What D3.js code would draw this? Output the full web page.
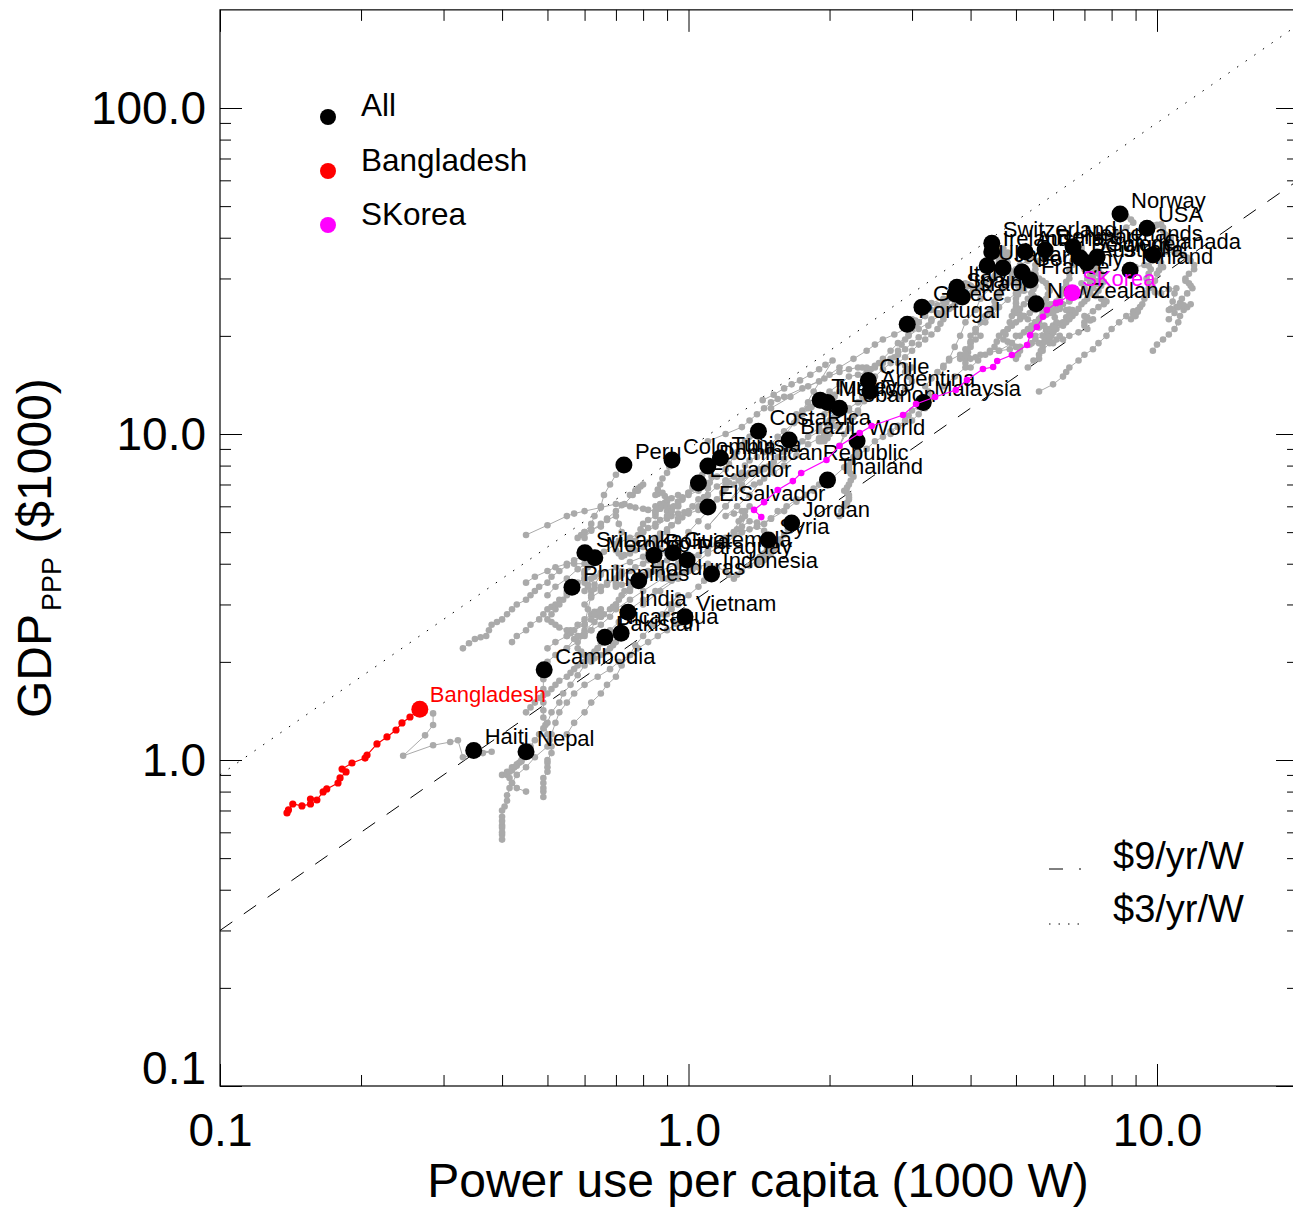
<!DOCTYPE html>
<html><head><meta charset="utf-8">
<script src="https://cdn.jsdelivr.net/npm/d3@7/dist/d3.min.js"></script>
<style>
body{margin:0;background:#fff}
svg{display:block}
text{font-family:"Liberation Sans",Arial,Helvetica,sans-serif}
</style>
</head><body>
<svg id="c" width="1293" height="1207"></svg>
<script>
// ---------- DATA (power use per capita in 1000 W, GDP PPP in $1000) ----------
const xMajorTicks = [0.1, 1, 10];
const xTickLabels = ["0.1", "1.0", "10.0"];
const xMinorTicks = [0.2,0.3,0.4,0.5,0.6,0.7,0.8,0.9,2,3,4,5,6,7,8,9,20];
const yMajorTicks = [0.1, 1, 10, 100];
const yTickLabels = ["0.1", "1.0", "10.0", "100.0"];
const yMinorTicks = [0.2,0.3,0.4,0.5,0.6,0.7,0.8,0.9,2,3,4,5,6,7,8,9,20,30,40,50,60,70,80,90];
const legendNames = ["All", "Bangladesh", "SKorea"];
const ratioValues = [3, 9];              // reference lines GDP = k * power (dashed, dotted)
const ratioLabels = ["$9/yr/W", "$3/yr/W"];

const norway = [[4.6,18],[4.9,19],[5.1,20],[5.3,21],[5.5,22],[5.6,22.5],[5.9,23.5],[6.1,24],[6.5,25.5],[6.8,26.5],[7.0,27.5],[7.0,28],[6.9,29],[7.1,30],[7.2,31],[7.0,32],[7.0,33],[7.3,34.5],[7.6,36],[7.8,38],[7.9,40],[8.2,41.5],[8.6,43],[8.9,44.5],[8.8,45.5],[8.6,46.5],[8.5,47],[8.34,47.3]];
const usa = [[10.6,22.5],[10.9,23.5],[11.0,24.5],[10.7,24.2],[10.6,24],[10.8,25.5],[10.9,27],[11.0,28],[10.6,27.8],[10.2,27],[9.9,27.2],[9.8,28],[9.9,29.5],[10.0,31],[10.1,31.8],[10.3,32.5],[10.2,32.8],[10.2,33.5],[10.1,34.2],[10.1,35],[10.3,36.5],[10.6,38],[10.7,39],[10.7,40],[10.5,40.5],[10.4,41],[10.3,42],[10.3,43],[10.2,44],[10.0,43.8],[9.9,43.5],[9.52,42.8]];
const canada = [[9.8,18],[10.0,18.8],[10.3,19.5],[10.6,20.2],[10.9,21],[11.1,22],[11.2,23],[11.4,24],[11.6,24.5],[11.8,25],[11.4,24.8],[11.1,24.5],[11.2,25.2],[11.3,26],[11.6,27],[11.9,28],[11.8,28.5],[11.7,29],[11.5,29.5],[11.5,30],[11.7,31],[12.0,32],[12.0,33],[11.8,34],[11.6,34.8],[11.4,35.5],[11.1,36],[10.9,36],[10.5,36.2],[10.2,36],[9.80,35.4]];
const finland = [[5.6,13.5],[6.0,14.2],[6.3,15],[6.4,15.5],[6.5,16],[6.8,16.8],[7.0,17.5],[7.3,18.2],[7.5,19],[7.8,20],[8.0,21],[8.3,22],[8.6,23],[8.9,23.8],[9.2,24.5],[9.1,23.7],[9.0,23],[8.8,22.5],[8.9,23.2],[9.1,24],[9.3,25],[9.4,26],[9.5,27],[9.6,28],[9.6,29],[9.5,30],[9.6,31],[9.7,32],[9.6,32.8],[9.4,33],[9.0,32.5],[8.76,31.8]];
const netherlands = [[5.5,20],[5.8,20.8],[6.0,21.5],[6.2,21.8],[6.3,22],[6.4,22.8],[6.5,23.5],[6.6,24],[6.5,24.1],[6.4,24],[6.2,24.2],[6.0,24.5],[6.0,25],[6.1,25.5],[6.2,26.2],[6.3,27],[6.3,27.8],[6.4,28.5],[6.4,29.3],[6.5,30],[6.5,31],[6.5,32],[6.6,33],[6.6,34],[6.7,35],[6.8,36],[6.9,36.8],[6.9,37.5],[6.8,37.8],[6.62,37.5]];
const sweden = [[6.0,19],[6.3,19.5],[6.5,20],[6.8,20.5],[7.1,21],[7.0,21.5],[7.0,22],[7.2,22.3],[7.3,22.5],[7.1,22.8],[7.0,23],[7.3,23.8],[7.5,24.5],[7.7,25],[7.8,25.5],[7.7,25.8],[7.6,26],[7.4,26.5],[7.5,27.5],[7.6,28.5],[7.7,29.3],[7.6,30],[7.5,31],[7.3,32],[7.2,33],[7.1,34],[7.3,34.5],[7.45,34.9]];
const belgium = [[5.6,17],[5.7,18],[5.9,19],[6.1,19.5],[6.2,20],[6.0,20.5],[5.8,21],[5.6,21.2],[5.4,21.5],[5.5,22],[5.6,22.5],[5.8,23.2],[6.1,24],[6.2,24.5],[6.3,25],[6.5,25.8],[6.7,26.5],[6.9,27.2],[7.0,28],[7.2,29],[7.3,30],[7.3,30.8],[7.2,31.5],[7.2,32.2],[7.1,33],[7.0,33.8],[6.85,34.7]];
const australia = [[5.4,19],[5.5,19.5],[5.7,20],[5.9,20.2],[6.0,20.5],[6.1,21],[6.3,21.5],[6.4,22],[6.5,22.5],[6.6,23],[6.7,23.5],[6.8,24.2],[6.9,25],[7.0,25.5],[7.1,26],[7.2,27],[7.3,28],[7.4,28.8],[7.5,29.5],[7.6,30.2],[7.6,31],[7.5,31.8],[7.4,32.5],[7.2,33],[7.09,33.5]];
const denmark = [[5.0,20],[5.2,20.5],[5.4,21],[5.5,21.5],[5.5,22],[5.3,22.5],[5.2,23],[5.1,23.2],[5.0,23.5],[5.1,24.2],[5.2,25],[5.3,26],[5.4,27],[5.2,27.5],[5.1,28],[5.2,29],[5.3,30],[5.4,31],[5.5,32],[5.5,33],[5.6,34],[5.8,34.8],[5.9,35.5],[5.8,36.2],[5.77,36.7]];
const austria = [[3.5,16],[3.6,16.8],[3.8,17.5],[3.9,18.2],[4.0,19],[4.1,19.5],[4.2,20],[4.1,20.5],[4.1,21],[4.2,22],[4.3,23],[4.4,23.8],[4.5,24.5],[4.5,25.5],[4.6,26.5],[4.6,27.2],[4.7,28],[4.8,29],[4.9,30],[4.9,31],[5.0,32],[5.1,33],[5.3,34],[5.4,34.8],[5.4,35.5],[5.3,36],[5.23,36.2]];
const switzerland = [[4.0,27],[4.1,27.5],[4.2,28],[4.15,27.8],[4.1,27.5],[4.2,28.2],[4.3,29],[4.4,29.8],[4.5,30.5],[4.55,31.2],[4.6,32],[4.7,32.8],[4.8,33.5],[4.75,33.2],[4.7,33],[4.6,33.5],[4.6,34],[4.65,34.8],[4.7,35.5],[4.65,36.2],[4.6,37],[4.5,37.8],[4.44,38.5]];
const ireland = [[2.7,10],[2.8,10.5],[3.0,11],[3.1,11.5],[3.2,12],[3.25,12.5],[3.3,13],[3.25,13.5],[3.2,14],[3.3,14.8],[3.4,15.5],[3.5,16.2],[3.6,17],[3.7,18.5],[3.8,20],[3.9,22],[4.1,24],[4.2,26],[4.4,28],[4.5,30],[4.6,32],[4.7,33.5],[4.8,35],[4.8,36],[4.7,37],[4.6,36.8],[4.44,36.2]];
const uk = [[5.0,17],[5.05,17.5],[5.1,18],[5.0,18.5],[4.9,19],[4.8,19.2],[4.7,19.5],[4.75,20.2],[4.8,21],[4.85,22],[4.9,23],[4.95,23.8],[5.0,24.5],[5.0,25.2],[5.0,26],[5.05,26.8],[5.1,27.5],[5.05,28.5],[5.0,29.5],[4.95,30.2],[4.9,31],[4.75,31.5],[4.6,32],[4.45,32.5],[4.34,32.8]];
const japan = [[3.5,14],[3.7,15],[3.9,16],[3.9,16.5],[3.9,17],[3.95,17.8],[4.0,18.5],[4.0,19.2],[4.0,20],[4.1,21],[4.3,22],[4.45,23.2],[4.6,24.5],[4.8,25.8],[5.0,27],[5.15,27.8],[5.3,28.5],[5.35,28.8],[5.4,29],[5.45,29.8],[5.5,30.5],[5.4,30.8],[5.3,31],[5.1,31.2],[4.9,31.5],[4.8,32],[4.69,32.3]];
const germany = [[5.3,16],[5.45,16.8],[5.6,17.5],[5.65,18],[5.7,18.5],[5.75,19.2],[5.8,20],[5.85,20.5],[5.9,21],[5.75,21.5],[5.6,22],[5.65,22.8],[5.7,23.5],[5.8,24.2],[5.9,25],[5.7,25.5],[5.5,26],[5.45,26.5],[5.4,27],[5.45,27.8],[5.5,28.5],[5.45,29.2],[5.4,30],[5.45,30.5],[5.5,31],[5.3,31.2],[5.15,31.4]];
const france = [[4.0,16],[4.15,16.8],[4.3,17.5],[4.4,18],[4.5,18.5],[4.55,19.2],[4.6,20],[4.7,20.5],[4.8,21],[4.9,21.5],[5.0,22],[5.1,22.5],[5.2,23],[5.35,23.5],[5.5,24],[5.6,24.5],[5.7,25],[5.75,25.5],[5.8,26],[5.85,26.8],[5.9,27.5],[5.85,28.2],[5.8,29],[5.7,29.5],[5.6,30],[5.5,29.9],[5.36,29.7]];
const italy = [[2.5,15],[2.6,15.8],[2.7,16.5],[2.75,17.2],[2.8,18],[2.85,18.8],[2.9,19.5],[2.95,20.2],[3.0,21],[3.05,21.5],[3.1,22],[3.2,23],[3.3,24],[3.4,24.8],[3.5,25.5],[3.6,26],[3.7,26.5],[3.75,27],[3.8,27.5],[3.9,28],[4.0,28.5],[3.95,28.8],[3.9,29],[3.8,28.6],[3.74,28.2]];
const spain = [[1.8,12.5],[1.9,13],[2.0,13.5],[2.1,14.2],[2.2,15],[2.3,15.2],[2.4,15.5],[2.45,15.8],[2.5,16],[2.55,16.5],[2.6,17],[2.7,18],[2.8,19],[2.95,20],[3.1,21],[3.3,22.2],[3.5,23.5],[3.65,24.5],[3.8,25.5],[3.95,26.5],[4.1,27.5],[4.05,28],[4.0,28.5],[3.85,27.7],[3.71,26.9]];
const israel = [[2.8,13],[2.9,13.8],[3.0,14.5],[2.95,15],[2.9,15.5],[2.95,15.8],[3.0,16],[2.9,16.2],[2.8,16.5],[2.9,17.2],[3.0,18],[3.1,18.8],[3.2,19.5],[3.3,20.2],[3.4,21],[3.45,21.8],[3.5,22.5],[3.5,23],[3.5,23.5],[3.6,24.2],[3.7,25],[3.75,25.6],[3.84,26.3]];
const greece = [[1.5,12],[1.65,13],[1.8,14],[1.95,14.8],[2.1,15.5],[2.2,15.8],[2.3,16],[2.35,16],[2.4,16],[2.5,16.2],[2.6,16.5],[2.7,17],[2.8,17.5],[2.9,18.2],[3.0,19],[3.1,19.8],[3.2,20.5],[3.25,21.5],[3.3,22.5],[3.4,23.5],[3.5,24.5],[3.55,25.3],[3.5,26],[3.3,25.2],[3.15,24.5]];
const portugal = [[1.1,9.5],[1.2,10],[1.3,10.5],[1.35,11],[1.4,11.5],[1.45,12],[1.5,12.5],[1.55,12.8],[1.6,13],[1.75,13.8],[1.9,14.5],[2.0,15.2],[2.1,16],[2.25,17],[2.4,18],[2.5,18.8],[2.6,19.5],[2.75,20.2],[2.9,21],[3.0,21.5],[3.1,22],[3.05,22.3],[3.0,22.5],[2.95,22.1],[2.93,21.7]];
const newZealand = [[3.8,17],[3.85,17.3],[3.9,17.5],[3.95,17.2],[4.0,17],[4.1,17.2],[4.2,17.5],[4.4,17.8],[4.6,18],[4.85,18.2],[5.1,18.5],[5.35,18.8],[5.6,19],[5.75,19.2],[5.9,19.5],[5.95,20],[6.0,20.5],[6.05,21.2],[6.1,22],[6.05,22.8],[6.0,23.5],[5.9,24],[5.8,24.5],[5.65,24.8],[5.52,25.1]];
const chile = [[1.3,5.5],[1.32,5.8],[1.35,6.0],[1.32,5.6],[1.3,5.2],[1.27,5.1],[1.25,5.0],[1.28,5.4],[1.3,5.8],[1.25,5.7],[1.2,5.6],[1.27,6.0],[1.35,6.5],[1.42,7.1],[1.5,7.8],[1.6,8.4],[1.7,9.0],[1.8,9.8],[1.9,10.5],[2.0,11.0],[2.1,11.5],[2.2,12.0],[2.3,12.5],[2.35,13.0],[2.4,13.5],[2.42,14.0],[2.42,14.6]];
const argentina = [[1.7,11.5],[1.75,11.8],[1.8,12.0],[1.9,12.5],[2.0,13.0],[2.05,13.2],[2.1,13.5],[2.05,13.0],[2.0,12.5],[1.98,12.0],[1.95,11.5],[2.02,11.8],[2.1,12.0],[2.05,11.2],[2.0,10.5],[1.95,10.0],[1.9,9.5],[1.95,9.7],[2.0,10.0],[2.1,10.5],[2.2,11.0],[2.15,10.0],[2.1,9.2],[2.2,10.4],[2.3,11.8],[2.37,12.6],[2.44,13.5]];
const turkey = [[0.8,5.0],[0.85,5.2],[0.9,5.5],[0.92,5.6],[0.95,5.7],[0.98,5.75],[1.0,5.8],[1.02,6.0],[1.05,6.3],[1.08,6.4],[1.1,6.5],[1.15,6.9],[1.2,7.2],[1.25,7.4],[1.3,7.6],[1.32,8.0],[1.35,8.3],[1.4,8.5],[1.45,8.8],[1.48,9.0],[1.5,9.3],[1.55,9.8],[1.6,10.2],[1.68,10.8],[1.75,11.5],[1.83,12.1],[1.91,12.7]];
const mexico = [[1.3,6.8],[1.38,7.0],[1.45,7.3],[1.52,7.6],[1.6,8.0],[1.7,8.6],[1.8,9.3],[1.9,9.7],[2.0,10.0],[1.98,9.7],[1.95,9.5],[1.92,9.5],[1.9,9.6],[1.92,9.7],[1.95,9.8],[1.95,10.0],[1.95,10.2],[1.98,10.5],[2.0,10.8],[2.02,11.0],[2.05,11.3],[2.08,11.6],[2.1,12.0],[2.05,12.3],[1.98,12.5]];
const lebanon = [[1.44,12.7],[1.52,13.2],[1.6,13.8],[1.66,14.2],[1.73,14.6],[1.82,15.2],[1.9,15.8],[1.96,16.3],[2.03,16.8],[1.85,13.5],[1.7,11],[1.5,8.8],[1.3,7],[1.2,6.0],[1.1,5.2],[1.2,6.0],[1.3,6.8],[1.45,7.8],[1.6,8.8],[1.75,9.5],[1.9,10.2],[2.05,10.6],[2.2,11.0],[2.25,11.3],[2.3,11.6],[2.2,11.8],[2.10,12.0]];
const malaysia = [[0.8,3.6],[0.87,3.8],[0.95,4.0],[1.02,4.2],[1.1,4.4],[1.15,4.6],[1.2,4.8],[1.25,4.9],[1.3,5.0],[1.4,5.2],[1.5,5.5],[1.6,5.8],[1.7,6.2],[1.85,6.7],[2.0,7.2],[2.15,7.9],[2.3,8.6],[2.4,9.0],[2.5,9.5],[2.6,9.8],[2.7,10.2],[2.8,10.6],[2.9,11.0],[2.95,11.4],[3.0,11.8],[3.1,12.1],[3.17,12.5]];
const costaRica = [[0.85,6.0],[0.87,6.1],[0.9,6.2],[0.92,6.35],[0.95,6.5],[0.95,6.2],[0.95,6.0],[0.92,5.9],[0.9,5.8],[0.92,5.95],[0.95,6.1],[0.97,6.3],[1.0,6.5],[1.05,6.7],[1.1,7.0],[1.15,7.4],[1.2,7.8],[1.22,8.1],[1.25,8.5],[1.27,8.8],[1.3,9.2],[1.32,9.5],[1.35,9.8],[1.38,10.0],[1.41,10.2]];
const brazil = [[0.95,4.6],[1.0,5.0],[1.05,5.4],[1.1,5.8],[1.15,6.3],[1.18,6.6],[1.2,6.8],[1.2,7.0],[1.2,7.2],[1.22,7.1],[1.25,7.0],[1.28,7.2],[1.3,7.3],[1.32,7.45],[1.35,7.6],[1.38,7.65],[1.4,7.7],[1.42,7.8],[1.45,7.9],[1.48,7.95],[1.5,8.0],[1.52,8.2],[1.55,8.5],[1.6,9.0],[1.64,9.59]];
const world = [[2.1,5.6],[2.12,5.8],[2.15,6.0],[2.18,6.15],[2.2,6.3],[2.2,6.4],[2.2,6.5],[2.18,6.6],[2.15,6.7],[2.18,6.85],[2.2,7.0],[2.22,7.2],[2.25,7.4],[2.22,7.55],[2.2,7.7],[2.2,7.85],[2.2,8.0],[2.22,8.2],[2.25,8.5],[2.28,8.75],[2.3,9.0],[2.3,9.3],[2.29,9.52]];
const thailand = [[0.5,2.0],[0.52,2.1],[0.55,2.2],[0.58,2.3],[0.6,2.4],[0.62,2.5],[0.65,2.6],[0.68,2.75],[0.7,2.9],[0.75,3.1],[0.8,3.3],[0.88,3.6],[0.95,3.9],[1.05,4.25],[1.15,4.6],[1.25,5.0],[1.35,5.4],[1.4,5.35],[1.45,5.3],[1.5,5.5],[1.55,5.8],[1.62,6.0],[1.7,6.3],[1.78,6.5],[1.85,6.8],[1.9,7.0],[1.98,7.22]];
const peru = [[0.75,6.5],[0.77,6.7],[0.78,6.8],[0.79,6.9],[0.8,7.0],[0.78,6.7],[0.76,6.5],[0.73,6.1],[0.7,5.8],[0.67,5.5],[0.65,5.2],[0.62,5.1],[0.6,5.0],[0.59,4.9],[0.58,4.8],[0.6,5.0],[0.62,5.3],[0.63,5.6],[0.65,6.0],[0.66,6.5],[0.68,7.0],[0.7,7.5],[0.728,8.03]];
const colombia = [[0.75,4.5],[0.77,4.7],[0.78,4.9],[0.79,5.1],[0.8,5.3],[0.82,5.45],[0.85,5.6],[0.85,5.7],[0.85,5.8],[0.87,5.9],[0.88,6.0],[0.89,6.15],[0.9,6.3],[0.89,6.45],[0.88,6.6],[0.86,6.55],[0.85,6.5],[0.86,6.75],[0.87,7.0],[0.88,7.3],[0.9,7.6],[0.91,7.95],[0.922,8.32]];
const tunisia = [[0.5,3.2],[0.52,3.4],[0.55,3.6],[0.58,3.85],[0.62,4.1],[0.66,4.35],[0.7,4.6],[0.75,4.8],[0.8,5.0],[0.82,5.15],[0.85,5.3],[0.87,5.45],[0.9,5.6],[0.92,5.8],[0.95,6.0],[0.97,6.3],[1.0,6.6],[1.02,6.9],[1.05,7.2],[1.07,7.5],[1.1,7.8],[1.13,8.1],[1.17,8.44]];
const dominicanRepublic = [[0.55,3.3],[0.57,3.45],[0.6,3.6],[0.65,3.75],[0.7,3.9],[0.75,4.05],[0.8,4.2],[0.82,4.3],[0.85,4.4],[0.87,4.35],[0.9,4.3],[0.87,4.45],[0.85,4.6],[0.87,4.8],[0.9,5.0],[0.92,5.25],[0.95,5.5],[1.0,5.75],[1.05,6.0],[1.08,6.4],[1.1,6.8],[1.11,7.1],[1.12,7.4],[1.11,7.7],[1.10,7.98]];
const ecuador = [[0.45,4.9],[0.5,5.25],[0.55,5.6],[0.57,5.7],[0.6,5.8],[0.65,5.95],[0.7,6.1],[0.72,6.05],[0.75,6.0],[0.77,5.95],[0.8,5.9],[0.82,5.85],[0.85,5.8],[0.87,5.9],[0.9,6.0],[0.91,5.9],[0.92,5.8],[0.93,6.0],[0.95,6.2],[0.97,6.4],[1.0,6.6],[1.02,6.8],[1.05,7.07]];
const elSalvador = [[0.6,4.8],[0.62,5.05],[0.65,5.3],[0.67,5.45],[0.7,5.6],[0.71,5.3],[0.72,5.0],[0.71,4.7],[0.7,4.4],[0.71,4.3],[0.72,4.2],[0.73,4.25],[0.75,4.3],[0.77,4.4],[0.8,4.5],[0.82,4.65],[0.85,4.8],[0.87,4.95],[0.9,5.1],[0.92,5.25],[0.95,5.4],[0.97,5.55],[1.0,5.7],[1.05,5.85],[1.10,5.97]];
const jordan = [[0.8,3.0],[0.87,3.3],[0.95,3.6],[1.02,3.95],[1.1,4.3],[1.2,4.65],[1.3,5.0],[1.35,5.1],[1.4,5.2],[1.45,5.05],[1.5,4.9],[1.47,4.5],[1.45,4.2],[1.42,4.1],[1.4,4.0],[1.42,4.05],[1.45,4.1],[1.47,4.2],[1.5,4.3],[1.52,4.45],[1.55,4.6],[1.57,4.75],[1.6,4.9],[1.63,5.1],[1.66,5.33]];
const syria = [[0.75,2.9],[0.8,3.1],[0.85,3.3],[0.92,3.55],[1.0,3.8],[1.05,3.9],[1.1,4.0],[1.15,3.9],[1.2,3.8],[1.22,3.7],[1.25,3.6],[1.27,3.7],[1.3,3.8],[1.35,3.95],[1.4,4.1],[1.42,4.2],[1.45,4.3],[1.47,4.4],[1.5,4.5],[1.49,4.6],[1.48,4.73]];
const guatemala = [[0.6,3.0],[0.62,3.15],[0.65,3.3],[0.67,3.45],[0.7,3.6],[0.71,3.7],[0.72,3.8],[0.71,3.65],[0.7,3.5],[0.7,3.45],[0.7,3.4],[0.72,3.45],[0.75,3.5],[0.77,3.6],[0.8,3.7],[0.82,3.8],[0.85,3.9],[0.87,4.0],[0.9,4.1],[0.91,4.2],[0.927,4.32]];
const paraguay = [[0.55,2.2],[0.57,2.35],[0.6,2.5],[0.65,2.75],[0.7,3.0],[0.75,3.3],[0.8,3.6],[0.82,3.7],[0.85,3.8],[0.87,3.7],[0.9,3.6],[0.92,3.65],[0.95,3.7],[0.97,3.75],[1.0,3.8],[1.02,3.85],[1.05,3.9],[1.02,3.95],[1.0,4.0],[0.99,4.05],[0.993,4.11]];
const bolivia = [[0.45,3.5],[0.47,3.65],[0.5,3.8],[0.52,3.9],[0.55,4.0],[0.57,4.0],[0.6,4.0],[0.6,3.75],[0.6,3.5],[0.61,3.4],[0.62,3.3],[0.63,3.35],[0.65,3.4],[0.67,3.5],[0.7,3.6],[0.72,3.7],[0.75,3.8],[0.77,3.9],[0.8,4.0],[0.82,4.1],[0.844,4.25]];
const sriLanka = [[0.33,2.2],[0.34,2.28],[0.35,2.35],[0.36,2.38],[0.37,2.4],[0.375,2.5],[0.38,2.6],[0.39,2.65],[0.4,2.7],[0.41,2.8],[0.42,2.9],[0.43,3.0],[0.45,3.1],[0.46,3.2],[0.47,3.3],[0.48,3.4],[0.5,3.5],[0.51,3.65],[0.53,3.8],[0.55,3.95],[0.57,4.1],[0.59,4.2],[0.601,4.32]];
const morocco = [[0.42,2.3],[0.43,2.4],[0.45,2.5],[0.46,2.6],[0.48,2.7],[0.49,2.8],[0.5,2.9],[0.51,2.95],[0.52,3.0],[0.53,3.1],[0.55,3.2],[0.56,3.3],[0.57,3.4],[0.58,3.5],[0.6,3.6],[0.6,3.7],[0.6,3.8],[0.61,3.9],[0.62,4.0],[0.63,4.08],[0.631,4.17]];
const indonesia = [[0.55,1.2],[0.57,1.3],[0.6,1.4],[0.62,1.5],[0.65,1.6],[0.67,1.7],[0.7,1.8],[0.72,1.95],[0.75,2.1],[0.77,2.25],[0.8,2.4],[0.84,2.6],[0.88,2.8],[0.91,3.0],[0.95,3.2],[0.92,3.0],[0.9,2.8],[0.92,2.9],[0.95,3.0],[1.0,3.2],[1.05,3.4],[1.08,3.55],[1.12,3.72]];
const honduras = [[0.55,2.4],[0.56,2.5],[0.58,2.6],[0.6,2.7],[0.62,2.8],[0.63,2.85],[0.65,2.9],[0.64,2.85],[0.63,2.8],[0.64,2.77],[0.65,2.75],[0.66,2.8],[0.68,2.9],[0.69,2.95],[0.7,3.0],[0.71,3.1],[0.72,3.2],[0.73,3.3],[0.75,3.35],[0.77,3.45],[0.783,3.55]];
const philippines = [[0.5,2.2],[0.52,2.3],[0.55,2.4],[0.57,2.5],[0.6,2.6],[0.62,2.7],[0.65,2.8],[0.63,2.65],[0.62,2.5],[0.6,2.45],[0.58,2.4],[0.56,2.45],[0.55,2.5],[0.53,2.55],[0.52,2.6],[0.51,2.65],[0.5,2.7],[0.51,2.8],[0.52,2.9],[0.53,3.0],[0.54,3.1],[0.55,3.25],[0.564,3.39]];
const india = [[0.4,0.9],[0.41,0.92],[0.42,0.95],[0.43,0.97],[0.44,1.0],[0.45,1.05],[0.46,1.1],[0.47,1.15],[0.48,1.2],[0.49,1.25],[0.5,1.3],[0.51,1.4],[0.53,1.5],[0.54,1.6],[0.56,1.7],[0.58,1.82],[0.6,1.95],[0.62,2.07],[0.64,2.2],[0.66,2.35],[0.68,2.5],[0.71,2.65],[0.743,2.84]];
const vietnam = [[0.45,0.8],[0.43,0.82],[0.42,0.85],[0.43,0.9],[0.45,0.95],[0.47,1.02],[0.5,1.1],[0.51,1.2],[0.52,1.3],[0.53,1.4],[0.55,1.5],[0.57,1.6],[0.6,1.7],[0.64,1.8],[0.68,1.9],[0.71,2.0],[0.75,2.1],[0.78,2.2],[0.82,2.3],[0.86,2.4],[0.9,2.5],[0.94,2.62],[0.983,2.75]];
const pakistan = [[0.45,1.4],[0.46,1.45],[0.47,1.5],[0.48,1.55],[0.5,1.6],[0.51,1.65],[0.52,1.7],[0.53,1.75],[0.55,1.8],[0.56,1.85],[0.57,1.9],[0.58,1.95],[0.6,2.0],[0.61,2.05],[0.62,2.1],[0.63,2.15],[0.64,2.2],[0.65,2.28],[0.663,2.38]];
const nicaragua = [[0.6,3.3],[0.61,3.45],[0.62,3.6],[0.63,3.65],[0.65,3.7],[0.63,3.45],[0.62,3.2],[0.61,2.9],[0.6,2.6],[0.59,2.4],[0.58,2.2],[0.59,2.15],[0.6,2.1],[0.61,2.05],[0.62,2.0],[0.63,2.05],[0.65,2.1],[0.67,2.15],[0.68,2.2],[0.69,2.25],[0.7,2.3],[0.71,2.38],[0.718,2.45]];
const cambodia = [[0.49,0.77],[0.49,0.8],[0.49,0.82],[0.49,0.85],[0.49,0.88],[0.5,0.92],[0.5,0.95],[0.5,0.98],[0.5,1.0],[0.51,1.05],[0.51,1.1],[0.505,1.15],[0.5,1.2],[0.495,1.28],[0.49,1.35],[0.49,1.42],[0.49,1.5],[0.49,1.58],[0.49,1.65],[0.49,1.77],[0.492,1.89]];
const haiti = [[0.285,1.39],[0.285,1.28],[0.274,1.19],[0.246,1.03],[0.285,1.11],[0.31,1.135],[0.322,1.15],[0.33,1.02],[0.364,1.05],[0.38,1.06],[0.348,1.07]];
const nepal = [[0.40,0.57],[0.40,0.59],[0.40,0.6],[0.40,0.62],[0.40,0.63],[0.40,0.65],[0.40,0.67],[0.40,0.7],[0.405,0.72],[0.41,0.75],[0.41,0.78],[0.415,0.82],[0.42,0.85],[0.415,0.88],[0.41,0.9],[0.415,0.92],[0.42,0.93],[0.425,0.95],[0.43,0.96],[0.435,0.98],[0.44,0.99],[0.445,1.02],[0.450,1.06]];

const bangladesh = [[0.139,0.688],[0.140,0.703],[0.143,0.733],[0.1496,0.723],[0.156,0.733],[0.156,0.759],[0.161,0.754],[0.166,0.798],[0.169,0.815],[0.1786,0.850],[0.1804,0.881],[0.1858,0.919],[0.1822,0.938],[0.1913,0.979],[0.204,1.014],[0.206,1.036],[0.2163,1.12],[0.2272,1.177],[0.2375,1.236],[0.2446,1.299],[0.2544,1.355],[0.267,1.43]];
const sKorea = [[1.43,5.56],[1.38,5.85],[1.45,6.18],[1.55,6.73],[1.67,7.17],[1.74,7.59],[1.97,8.32],[2.10,9.19],[2.32,10.07],[2.46,10.58],[2.87,11.44],[3.06,12.36],[3.36,12.99],[3.72,13.65],[3.93,14.64],[4.25,15.83],[4.47,16.05],[4.56,16.74],[4.90,17.47],[5.28,18.75],[5.36,20.1],[5.54,21.3],[5.71,22.9],[5.82,24.0],[6.09,25.2],[6.21,25.4],[6.59,27.1]];

// table built from the named arrays: [label, track, label dx, label dy]
const countries = [
 ["Norway",norway],["USA",usa],["Canada",canada],["Finland",finland],["Netherlands",netherlands],
 ["Sweden",sweden],["Belgium",belgium],["Australia",australia],["Denmark",denmark],["Austria",austria],
 ["Switzerland",switzerland],["Ireland",ireland],["UK",uk],["Japan",japan],["Germany",germany],
 ["France",france],["Italy",italy],["Spain",spain],["Israel",israel],["Greece",greece],["Portugal",portugal],
 ["NewZealand",newZealand],["Chile",chile],["Argentina",argentina],["Turkey",turkey],["Mexico",mexico],
 ["Lebanon",lebanon],["Malaysia",malaysia],["CostaRica",costaRica],["Brazil",brazil],["World",world],
 ["Thailand",thailand],["Peru",peru],["Colombia",colombia],["Tunisia",tunisia],["DominicanRepublic",dominicanRepublic],
 ["Ecuador",ecuador],["ElSalvador",elSalvador],["Jordan",jordan],["Syria",syria],["Guatemala",guatemala],
 ["Paraguay",paraguay],["Bolivia",bolivia],["SriLanka",sriLanka],["Morocco",morocco],["Indonesia",indonesia],
 ["Honduras",honduras],["Philippines",philippines],["India",india],["Vietnam",vietnam],["Pakistan",pakistan],
 ["Nicaragua",nicaragua,-3,-9],["Cambodia",cambodia],["Haiti",haiti],["Nepal",nepal]
];

// ---------- CHART ----------
const svg = d3.select("#c");
const GRAY = "#aaaaaa", RED = "#ff0000", MAG = "#ff00ff";
const x = d3.scaleLog().domain([0.1, 20]).range([220, 220 + 468.5*Math.log10(200)]);
const y = d3.scaleLog().domain([0.1, 200]).range([108 + 3*326, 108 - 326*Math.log10(2)]);
const [L, R] = x.range(), [B, T] = y.range();

svg.append("defs").append("clipPath").attr("id","plot")
  .append("rect").attr("x",L).attr("y",T).attr("width",R-L).attr("height",B-T);

const plot = svg.append("g").attr("clip-path","url(#plot)");
const line = d3.line().x(d=>x(d[0])).y(d=>y(d[1]));

// reference lines
const dashes = ["15,14", "1.5,9"];
ratioValues.forEach((k,i)=>{
  plot.append("path").datum([[0.1,0.1*k],[20,20*k]]).attr("d",line)
    .attr("fill","none").attr("stroke","#000").attr("stroke-width",1).attr("stroke-dasharray",dashes[i]);
});

// gray trajectories
const gGray = plot.append("g");
countries.forEach(c=>{
  gGray.append("path").datum(c[1]).attr("d",line).attr("fill","none").attr("stroke",GRAY).attr("stroke-width",1);
  gGray.selectAll(null).data(c[1]).enter().append("circle")
    .attr("cx",d=>x(d[0])).attr("cy",d=>y(d[1])).attr("r",3.3).attr("fill",GRAY);
});

// labels
const gLab = plot.append("g").attr("font-size",22).attr("fill","#000");
countries.forEach(c=>{
  const e = c[1][c[1].length-1];
  gLab.append("text").attr("x",x(e[0])+(c[2]??11)).attr("y",y(e[1])+(c[3]??-6)).text(c[0]);
});
// black end dots
plot.append("g").selectAll("circle").data(countries).enter().append("circle")
  .attr("cx",c=>x(c[1][c[1].length-1][0])).attr("cy",c=>y(c[1][c[1].length-1][1]))
  .attr("r",8.5).attr("fill","#000");

// colored trajectories
[[bangladesh,RED,3.6,"Bangladesh"],[sKorea,MAG,3.3,"SKorea"]].forEach(([tr,col,r,name])=>{
  const g = plot.append("g");
  g.append("path").datum(tr).attr("d",line).attr("fill","none").attr("stroke",col).attr("stroke-width",1.2);
  g.selectAll(null).data(tr).enter().append("circle")
    .attr("cx",d=>x(d[0])).attr("cy",d=>y(d[1])).attr("r",r).attr("fill",col);
  const e = tr[tr.length-1];
  g.append("text").attr("x",x(e[0])+10).attr("y",y(e[1])-7).attr("font-size",22).attr("fill",col).text(name);
  g.append("circle").attr("cx",x(e[0])).attr("cy",y(e[1])).attr("r",8.5).attr("fill",col);
});

// ---------- AXES ----------
const axStyle = g => { g.select(".domain").remove(); g.selectAll("line").attr("stroke","#000"); };
const TICKFONT = 46;
svg.append("g").attr("transform",`translate(${L},0)`)
  .call(d3.axisLeft(y).tickValues(yMinorTicks).tickSize(-11).tickFormat("")).call(axStyle);
const yAx = svg.append("g").attr("transform",`translate(${L},0)`)
  .call(d3.axisLeft(y).tickValues(yMajorTicks).tickSize(-22).tickPadding(14)
    .tickFormat((d,i)=>yTickLabels[i])).call(axStyle);
yAx.selectAll("text").attr("font-size",TICKFONT).attr("font-family","Liberation Sans, Arial, sans-serif").attr("fill","#000")
  .attr("dy",(d)=> d===0.1 ? "-0.05em" : "0.34em");

svg.append("g").attr("transform",`translate(${R},0)`)
  .call(d3.axisRight(y).tickValues(yMinorTicks).tickSize(-11).tickFormat("")).call(axStyle);
svg.append("g").attr("transform",`translate(${R},0)`)
  .call(d3.axisRight(y).tickValues(yMajorTicks).tickSize(-22).tickFormat("")).call(axStyle);

svg.append("g").attr("transform",`translate(0,${B})`)
  .call(d3.axisBottom(x).tickValues(xMinorTicks).tickSize(-11).tickFormat("")).call(axStyle);
const xAx = svg.append("g").attr("transform",`translate(0,${B})`)
  .call(d3.axisBottom(x).tickValues(xMajorTicks).tickSize(-22).tickPadding(27)
    .tickFormat((d,i)=>xTickLabels[i])).call(axStyle);
xAx.selectAll("text").attr("font-size",TICKFONT).attr("font-family","Liberation Sans, Arial, sans-serif").attr("fill","#000");

svg.append("g").attr("transform",`translate(0,${T})`)
  .call(d3.axisTop(x).tickValues(xMinorTicks).tickSize(-11).tickFormat("")).call(axStyle);
svg.append("g").attr("transform",`translate(0,${T})`)
  .call(d3.axisTop(x).tickValues(xMajorTicks).tickSize(-22).tickFormat("")).call(axStyle);

// frame
svg.append("rect").attr("x",L).attr("y",T).attr("width",R-L).attr("height",B-T)
  .attr("fill","none").attr("stroke","#000").attr("stroke-width",1.2);

// axis titles
svg.append("text").attr("x",758).attr("y",1197).attr("text-anchor","middle").attr("font-size",48)
  .text("Power use per capita (1000 W)");
const yt = svg.append("text").attr("transform","translate(51,718) rotate(-90)").attr("font-size",48);
yt.append("tspan").text("GDP");
yt.append("tspan").attr("font-size",27).attr("dy",10).attr("dx",3).text("PPP");
yt.append("tspan").attr("dy",-10).text(" ($1000)");

// legend: points
const legColors = ["#000", RED, MAG];
const lg = svg.append("g");
legendNames.forEach((n,i)=>{
  lg.append("circle").attr("cx",328).attr("cy",117+i*54).attr("r",8).attr("fill",legColors[i]);
  lg.append("text").attr("x",361).attr("y",116+i*54.5).attr("font-size",31.5).text(n);
});
// legend: lines
ratioLabels.forEach((n,i)=>{
  lg.append("line").attr("x1",1049).attr("x2",1082).attr("y1",869+i*55).attr("y2",869+i*55)
    .attr("stroke","#000").attr("stroke-width",1).attr("stroke-dasharray", i===0 ? "14,16,2,10" : "1.5,8");
  lg.append("text").attr("x",1113).attr("y",869+i*53).attr("font-size",38).text(n);
});
</script>
</body></html>
